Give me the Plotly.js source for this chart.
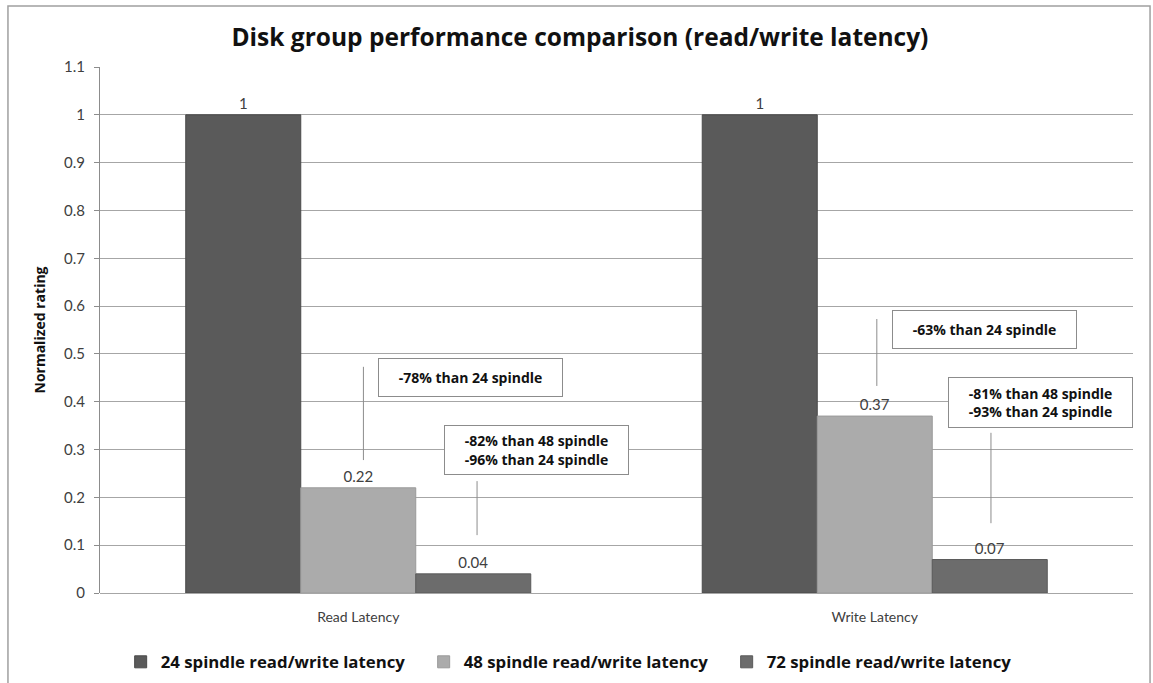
<!DOCTYPE html>
<html>
<head>
<meta charset="utf-8">
<script src="https://cdn.plot.ly/plotly-3.0.1.min.js"></script>
<style>
  html, body { margin: 0; padding: 0; background: #ffffff; }
  #chart { width: 1153px; height: 683px; }
</style>
</head>
<body>
<div id="chart"></div>
<script>
// Latency categories and normalized ratings per disk group size
const categories = ['Read Latency', 'Write Latency'];
const seriesNames = [
  '24 spindle read/write latency',
  '48 spindle read/write latency',
  '72 spindle read/write latency'
];
const spindle24 = [1, 1];
const spindle48 = [0.22, 0.37];
const spindle72 = [0.04, 0.07];
const yTicks = [0, 0.1, 0.2, 0.3, 0.4, 0.5, 0.6, 0.7, 0.8, 0.9, 1, 1.1];

// Comparison callouts: text, box position (category index, rating), leader line
const calloutTexts = [
  '-78% than 24 spindle',
  '-82% than 48 spindle<br>-96% than 24 spindle',
  '-63% than 24 spindle',
  '-81% than 48 spindle<br>-93% than 24 spindle'
];
const calloutX = [0.217, 0.346, 1.212, 1.320];
const calloutY = [0.450, 0.299, 0.551, 0.398];
const calloutH = [35, 46, 35, 47];
const leaderX = [0.01, 0.230, 1.004, 1.225];
const leaderTop = [0.473, 0.234, 0.573, 0.335];
const leaderBottom = [0.278, 0.121, 0.433, 0.146];

const FONT = 'Lato, "Open Sans", sans-serif';
const BOLD = '"Open Sans", Lato, sans-serif';
const colors = ['#5a5a5a', '#ababab', '#6c6c6c'];
const edgeColors = ['#4a4a4a', '#9a9a9a', '#5a5a5a'];

const values = [spindle24, spindle48, spindle72];
const traces = values.map((v, i) => ({
  type: 'bar',
  name: seriesNames[i],
  x: categories,
  y: v,
  marker: { color: colors[i], line: { color: edgeColors[i], width: 1 } },
  texttemplate: '%{y}',
  textposition: 'outside',
  textfont: { family: FONT, size: 15, color: '#404040' },
  cliponaxis: false,
  hoverinfo: 'x+y+name'
}));

const annotations = calloutTexts.map((t, i) => ({
  xref: 'x', yref: 'y',
  x: calloutX[i], y: calloutY[i],
  text: t,
  showarrow: false,
  font: { family: BOLD, size: 14, color: '#111111', weight: 700 },
  bgcolor: '#ffffff',
  bordercolor: '#8c8c8c',
  borderwidth: 1,
  width: 181,
  height: calloutH[i],
  align: 'center',
  valign: 'middle'
}));

const shapes = leaderX.map((x, i) => ({
  type: 'line', xref: 'x', yref: 'y',
  x0: x, x1: x, y0: leaderBottom[i], y1: leaderTop[i],
  line: { color: '#8c8c8c', width: 1 }
}));
// outer chart frame
shapes.push({
  type: 'rect', xref: 'paper', yref: 'paper',
  x0: -0.0891, x1: 1.0165, y0: -0.3, y1: 1.116,
  line: { color: '#a0a0a0', width: 1.5 },
  layer: 'below'
});

const layout = {
  width: 1153,
  height: 683,
  margin: { l: 100, r: 20, t: 67, b: 90, autoexpand: false },
  paper_bgcolor: '#ffffff',
  plot_bgcolor: '#ffffff',
  font: { family: FONT, color: '#404040' },
  title: {
    text: 'Disk group performance comparison (read/write latency)',
    font: { family: BOLD, size: 24.5, color: '#111111', weight: 700 },
    x: 0.503, xanchor: 'center',
    y: 0.945, yanchor: 'middle'
  },
  barmode: 'group',
  bargap: 0.332,
  bargroupgap: 0,
  xaxis: {
    type: 'category',
    range: [-0.5, 1.5],
    showgrid: false,
    showline: false,
    zeroline: false,
    ticks: '',
    tickfont: { family: FONT, size: 14, color: '#404040' },
    ticklabelstandoff: 14
  },
  yaxis: {
    range: [0, 1.1],
    tickvals: yTicks,
    ticktext: yTicks.map(v => String(v)),
    showgrid: true,
    gridcolor: '#a6a6a6',
    gridwidth: 1,
    zeroline: true,
    zerolinecolor: '#a6a6a6',
    zerolinewidth: 1,
    showline: true,
    linecolor: '#8c8c8c',
    linewidth: 1,
    ticks: 'outside',
    ticklen: 5,
    tickcolor: '#8c8c8c',
    tickfont: { family: FONT, size: 15, color: '#404040' },
    ticklabelstandoff: 6,
    title: {
      text: 'Normalized rating',
      font: { family: BOLD, size: 14, color: '#111111', weight: 700 },
      standoff: 15
    }
  },
  legend: {
    orientation: 'h',
    x: 0.02, xanchor: 'left',
    y: -0.131, yanchor: 'middle',
    font: { family: BOLD, size: 16.8, color: '#111111', weight: 700 },
    itemwidth: 30,
    entrywidth: 258,
    traceorder: 'normal'
  },
  annotations: annotations,
  shapes: shapes,
  showlegend: true
};

Plotly.newPlot('chart', traces, layout, { displayModeBar: false, staticPlot: true });
</script>
</body>
</html>
